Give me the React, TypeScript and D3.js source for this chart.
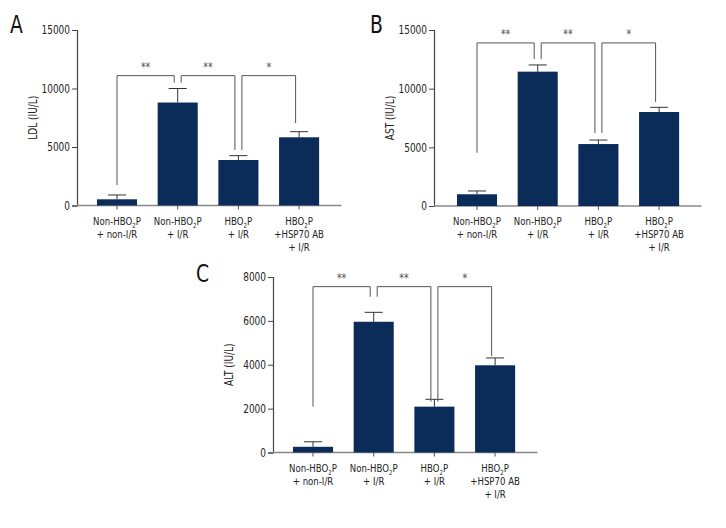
import React, { useRef, useEffect } from "react";
import * as d3 from "d3";

// Groups (bottom labels, one line per entry; "_2" marks the subscript)
const groups: string[][] = [
  ["Non-HBO_2P", "+ non-I/R"],
  ["Non-HBO_2P", "+ I/R"],
  ["HBO_2P", "+ I/R"],
  ["HBO_2P", "+HSP70 AB", "+ I/R"],
];

// Panel A - LDL
const ldlMean = [530, 8800, 3890, 5830];
const ldlSem = [370, 1200, 370, 480];
const ldlTicks = [0, 5000, 10000, 15000];
// Panel B - AST
const astMean = [1000, 11450, 5280, 8010];
const astSem = [280, 570, 340, 400];
const astTicks = [0, 5000, 10000, 15000];
// Panel C - ALT
const altMean = [260, 5960, 2090, 3975];
const altSem = [230, 430, 335, 335];
const altTicks = [0, 2000, 4000, 6000, 8000];

// Significance brackets: [from, to, stars]
const bracketPairs: [number, number, string][] = [
  [0, 1, "**"],
  [1, 2, "**"],
  [2, 3, "*"],
];
// bracket heights (top) and leg ends (left, right) per panel, in data units
const ldlBracketTop = [11100, 11100, 11100];
const ldlBracketLegs = [[1750, 10500], [10500, 4740], [4740, 7050]];
const astBracketTop = [13900, 13900, 13900];
const astBracketLegs = [[4540, 12530], [12530, 6220], [6220, 8860]];
const altBracketTop = [7560, 7560, 7560];
const altBracketLegs = [[2090, 7100], [7100, 2315], [2315, 4400]];

interface Panel {
  letter: string;
  yLabel: string;
  mean: number[];
  sem: number[];
  ticks: number[];
  top: number[];
  legs: number[][];
  axisX: number;
  yTop: number;
  yZero: number;
  firstCenter: number;
  letterPos: [number, number];
  yLabelX: number;
}

const panels: Panel[] = [
  { letter: "A", yLabel: "LDL (IU/L)", mean: ldlMean, sem: ldlSem, ticks: ldlTicks, top: ldlBracketTop, legs: ldlBracketLegs,
    axisX: 77, yTop: 30, yZero: 205.5, firstCenter: 117, letterPos: [10, 33], yLabelX: 37 },
  { letter: "B", yLabel: "AST (IU/L)", mean: astMean, sem: astSem, ticks: astTicks, top: astBracketTop, legs: astBracketLegs,
    axisX: 434, yTop: 30, yZero: 206, firstCenter: 477, letterPos: [370, 33], yLabelX: 394 },
  { letter: "C", yLabel: "ALT (IU/L)", mean: altMean, sem: altSem, ticks: altTicks, top: altBracketTop, legs: altBracketLegs,
    axisX: 273, yTop: 277, yZero: 452.5, firstCenter: 313, letterPos: [196, 282], yLabelX: 233 },
];

const FONT = "'DejaVu Sans', sans-serif";
const BAR = "#0b2c59";
const SX = 0.78; // horizontal squeeze to mimic the condensed face

const App: React.FC = () => {
  const svgRef = useRef<SVGSVGElement | null>(null);

  useEffect(() => {
    const width = 726;
    const height = 528;
    const step = 60.7;

    d3.select(svgRef.current).selectAll("*").remove();
    const svg = d3
      .select(svgRef.current)
      .attr("width", width)
      .attr("height", height)
      .style("font-family", FONT);

    panels.forEach((p) => {
      const g = svg.append("g");
      const x0 = p.firstCenter - step / 2;
      const x = d3
        .scaleBand<number>()
        .domain(d3.range(p.mean.length))
        .range([x0, x0 + step * p.mean.length])
        .paddingInner(0.34)
        .paddingOuter(0.17);
      const cx = (i: number) => (x(i) as number) + x.bandwidth() / 2;
      const y = d3
        .scaleLinear()
        .domain([0, d3.max(p.ticks) as number])
        .range([p.yZero, p.yTop]);

      // y axis
      const yAxis = g
        .append("g")
        .attr("transform", `translate(${p.axisX},0)`)
        .call(d3.axisLeft(y).tickValues(p.ticks).tickSize(5).tickPadding(4).tickFormat(d3.format("d")));
      yAxis.select(".domain").attr("stroke", "#444").attr("stroke-width", 1.2);
      yAxis.selectAll(".tick line").attr("stroke", "#444");
      yAxis
        .selectAll("text")
        .attr("transform", `scale(${SX},1)`)
        .style("font-size", "11.5px")
        .style("fill", "#222")
        .style("font-family", FONT);

      // x axis
      const xEnd = x0 + step * p.mean.length + 12;
      g.append("line")
        .attr("x1", p.axisX).attr("x2", xEnd)
        .attr("y1", p.yZero).attr("y2", p.yZero)
        .attr("stroke", "#888").attr("stroke-width", 1.3);
      g.selectAll(".xtick")
        .data(p.mean)
        .join("line")
        .attr("x1", (_, i) => cx(i)).attr("x2", (_, i) => cx(i))
        .attr("y1", p.yZero).attr("y2", p.yZero + 4)
        .attr("stroke", "#555");

      // error bars (upper only)
      g.selectAll(".err")
        .data(p.mean)
        .join("line")
        .attr("x1", (_, i) => cx(i)).attr("x2", (_, i) => cx(i))
        .attr("y1", (d) => y(d)).attr("y2", (d, i) => y(d + p.sem[i]))
        .attr("stroke", "#333").attr("stroke-width", 1);
      g.selectAll(".cap")
        .data(p.mean)
        .join("line")
        .attr("x1", (_, i) => cx(i) - 9).attr("x2", (_, i) => cx(i) + 9)
        .attr("y1", (d, i) => y(d + p.sem[i])).attr("y2", (d, i) => y(d + p.sem[i]))
        .attr("stroke", "#333").attr("stroke-width", 1);

      // bars
      g.selectAll(".bar")
        .data(p.mean)
        .join("rect")
        .attr("x", (_, i) => x(i) as number)
        .attr("width", x.bandwidth())
        .attr("y", (d) => y(d))
        .attr("height", (d) => p.yZero - y(d))
        .attr("fill", BAR);

      // brackets
      bracketPairs.forEach(([a, b, stars], k) => {
        const xl = cx(a) + (a > 0 ? 3.5 : 0);
        const xr = cx(b) - 3.5;
        const yt = y(p.top[k]);
        g.append("path")
          .attr("d", `M${xl},${y(p.legs[k][0])}V${yt}H${xr}V${y(p.legs[k][1])}`)
          .attr("fill", "none")
          .attr("stroke", "#555")
          .attr("stroke-width", 1);
        g.append("text")
          .attr("transform", `translate(${(xl + xr) / 2},${yt - 5}) scale(${SX},1)`)
          .attr("text-anchor", "middle")
          .style("font-size", "12px")
          .style("fill", "#555")
          .text(stars);
      });

      // category labels
      groups.forEach((lines, i) => {
        lines.forEach((line, j) => {
          const t = g.append("text")
            .attr("transform", `translate(${cx(i)},${p.yZero + 19 + j * 13}) scale(${SX},1)`)
            .attr("text-anchor", "middle")
            .style("font-size", "11px")
            .style("fill", "#222");
          const parts = line.split("_2");
          if (parts.length === 2) {
            t.append("tspan").text(parts[0]);
            t.append("tspan").attr("dy", 3).style("font-size", "7px").text("2");
            t.append("tspan").attr("dy", -3).text(parts[1]);
          } else {
            t.text(line);
          }
        });
      });

      // y label
      g.append("text")
        .attr("transform", `translate(${p.yLabelX},${(p.yZero + p.yTop) / 2}) rotate(-90) scale(${SX},1)`)
        .attr("text-anchor", "middle")
        .style("font-size", "11.5px")
        .style("fill", "#222")
        .text(p.yLabel);

      // panel letter
      svg.append("text")
        .attr("transform", `translate(${p.letterPos[0]},${p.letterPos[1]}) scale(0.75,1)`)
        .style("font-size", "25px")
        .style("fill", "#111")
        .text(p.letter);
    });
  }, []);

  return (
    <div style={{ margin: -8 }}>
      <svg ref={svgRef} style={{ display: "block", background: "#fff" }}></svg>
    </div>
  );
};

export default App;
